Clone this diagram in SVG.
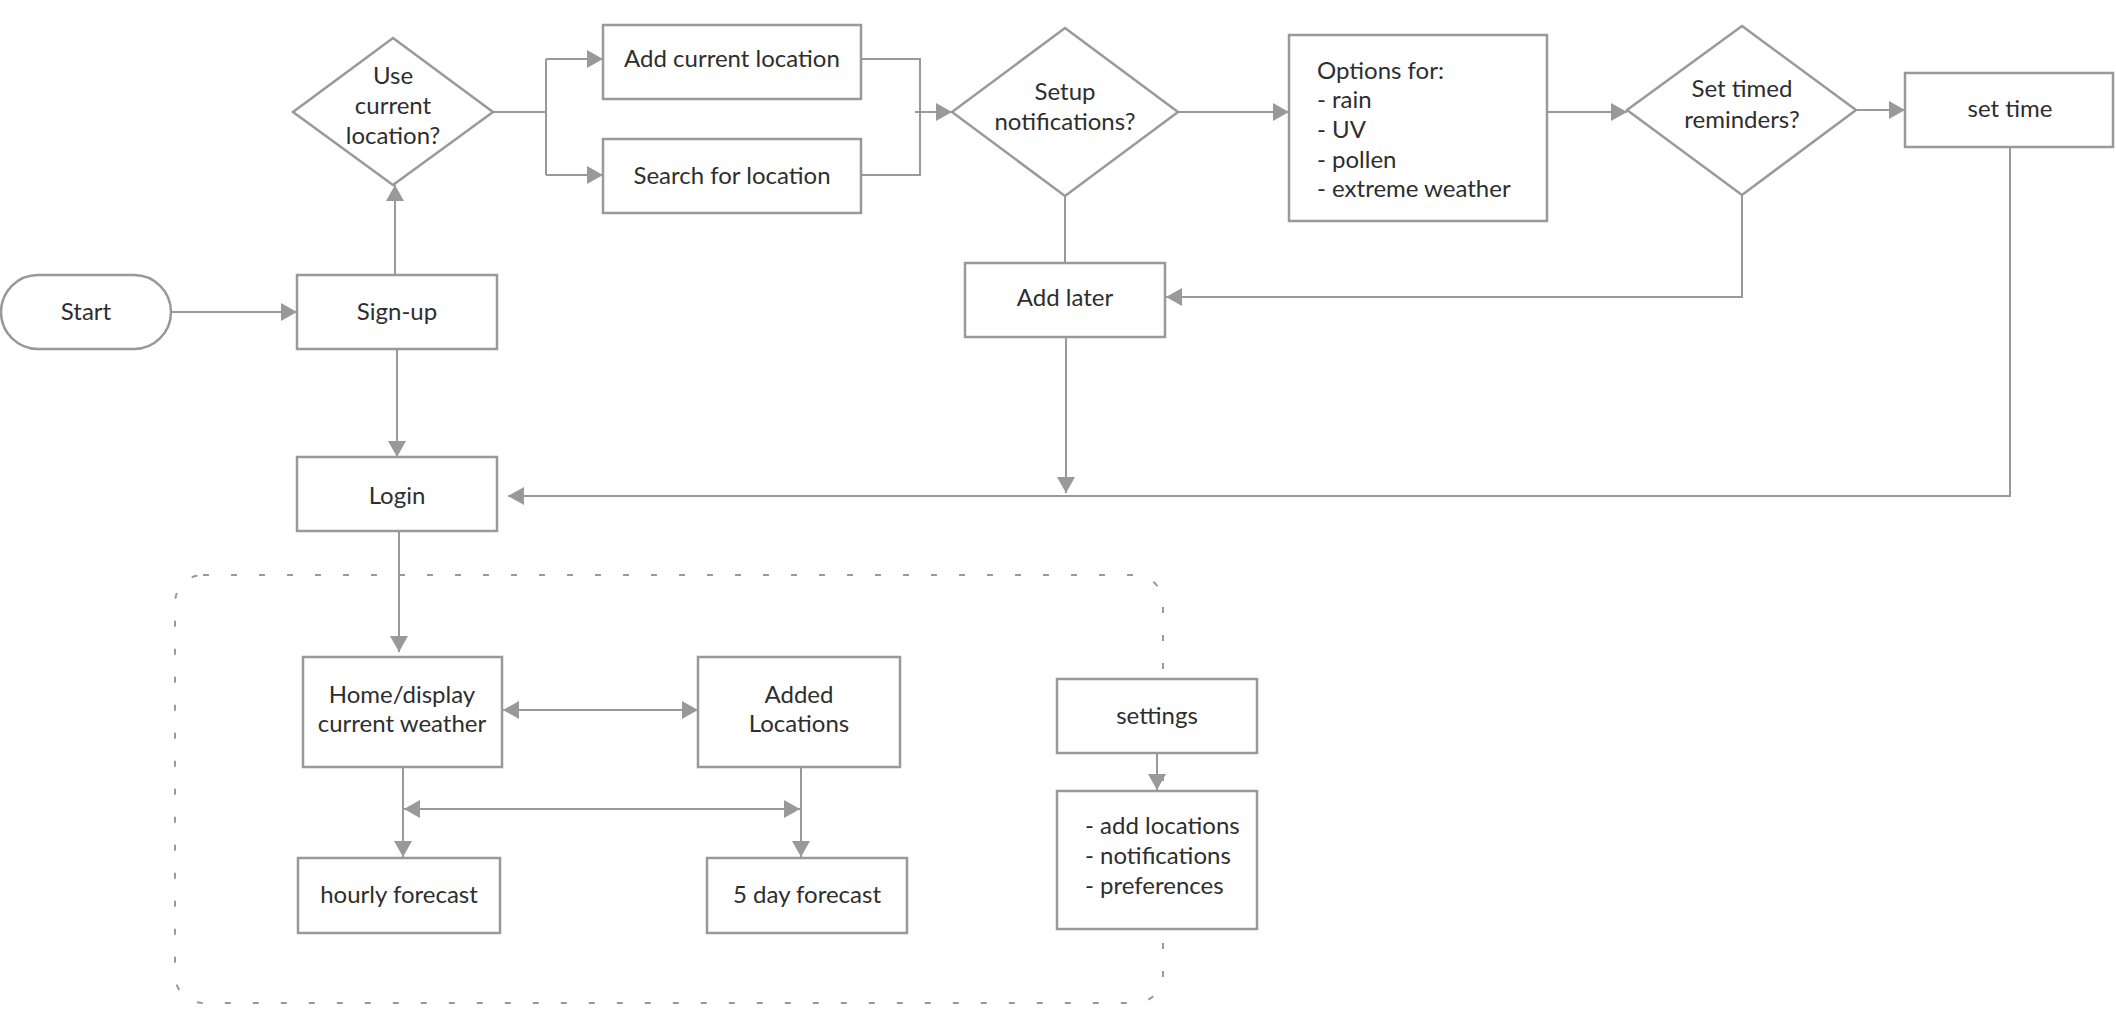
<svg xmlns="http://www.w3.org/2000/svg" width="2116" height="1031" viewBox="0 0 2116 1031">
<style>
.n{fill:#fff;stroke:#999;stroke-width:2.5}
.c{fill:none;stroke:#999;stroke-width:2}
.t{font-family:Lato,"Noto Sans",sans-serif;font-size:24px;fill:#2e2e2e;text-anchor:middle}
.l{font-family:Lato,"Noto Sans",sans-serif;font-size:24px;fill:#2e2e2e;text-anchor:start}
.d{fill:none;stroke:#999;stroke-width:2;stroke-dasharray:6 22}
</style>
<defs>
<marker id="a" viewBox="0 0 16 18" refX="16" refY="9" markerWidth="16" markerHeight="18" markerUnits="userSpaceOnUse" orient="auto-start-reverse">
<path d="M0,0 L16,9 L0,18 Z" fill="#999"/>
</marker>
</defs>
<rect width="2116" height="1031" fill="#fff"/>
<rect id="group-frame" class="d" x="175" y="575" width="988" height="428" rx="28"/>
<g id="connectors">
<path class="c" d="M171,312 H297" marker-end="url(#a)"/>
<path class="c" d="M395,275 V185" marker-end="url(#a)"/>
<path class="c" d="M397,349 V457" marker-end="url(#a)"/>
<path class="c" d="M493,112 H546 M546,59 V175"/>
<path class="c" d="M546,59 H603" marker-end="url(#a)"/>
<path class="c" d="M546,175 H603" marker-end="url(#a)"/>
<path class="c" d="M861,59 H920 V175 H861"/>
<path class="c" d="M915,112 H952" marker-end="url(#a)"/>
<path class="c" d="M1178,112 H1289" marker-end="url(#a)"/>
<path class="c" d="M1547,112 H1627" marker-end="url(#a)"/>
<path class="c" d="M1856,110 H1905" marker-end="url(#a)"/>
<path class="c" d="M1065,196 V263"/>
<path class="c" d="M1742,195 V297 H1166" marker-end="url(#a)"/>
<path class="c" d="M1066,337 V493" marker-end="url(#a)"/>
<path class="c" d="M2010,147 V496 H508" marker-end="url(#a)"/>
<path class="c" d="M399,531 V652" marker-end="url(#a)"/>
<path class="c" d="M503,710 H698" marker-start="url(#a)" marker-end="url(#a)"/>
<path class="c" d="M403,767 V857" marker-end="url(#a)"/>
<path class="c" d="M801,767 V857" marker-end="url(#a)"/>
<path class="c" d="M404,809 H800" marker-start="url(#a)" marker-end="url(#a)"/>
<path class="c" d="M1157,753 V790" marker-end="url(#a)"/>
</g>
<g id="start"><rect class="n" x="1" y="275" width="170" height="74" rx="37"/><text class="t" x="86" y="320">Start</text></g>
<g id="signup"><rect class="n" x="297" y="275" width="200" height="74"/><text class="t" x="397" y="320">Sign-up</text></g>
<g id="use-location"><polygon class="n" points="393,38 493,112 393,185 293,112"/><text class="t" x="393" y="84">Use</text><text class="t" x="393" y="114">current</text><text class="t" x="393" y="144">location?</text></g>
<g id="add-current"><rect class="n" x="603" y="25" width="258" height="74"/><text class="t" x="732" y="67">Add current location</text></g>
<g id="search"><rect class="n" x="603" y="139" width="258" height="74"/><text class="t" x="732" y="184">Search for location</text></g>
<g id="setup-notif"><polygon class="n" points="1065,28 1178,112 1065,196 952,112"/><text class="t" x="1065" y="100">Setup</text><text class="t" x="1065" y="130">notifications?</text></g>
<g id="options"><rect class="n" x="1289" y="35" width="258" height="186"/>
<text class="l" x="1317" y="79">Options for:</text>
<text class="l" x="1317" y="108">- rain</text>
<text class="l" x="1317" y="138">- UV</text>
<text class="l" x="1317" y="168">- pollen</text>
<text class="l" x="1317" y="197">- extreme weather</text></g>
<g id="set-timed"><polygon class="n" points="1742,26 1856,110 1742,195 1627,110"/><text class="t" x="1742" y="97">Set timed</text><text class="t" x="1742" y="128">reminders?</text></g>
<g id="set-time"><rect class="n" x="1905" y="73" width="208" height="74"/><text class="t" x="2010" y="117">set time</text></g>
<g id="add-later"><rect class="n" x="965" y="263" width="200" height="74"/><text class="t" x="1065" y="306">Add later</text></g>
<g id="login"><rect class="n" x="297" y="457" width="200" height="74"/><text class="t" x="397" y="504">Login</text></g>
<g id="home"><rect class="n" x="303" y="657" width="199" height="110"/><text class="t" x="402" y="703">Home/display</text><text class="t" x="402" y="732">current weather</text></g>
<g id="added-locations"><rect class="n" x="698" y="657" width="202" height="110"/><text class="t" x="799" y="703">Added</text><text class="t" x="799" y="732">Locations</text></g>
<g id="hourly"><rect class="n" x="298" y="858" width="202" height="75"/><text class="t" x="399" y="903">hourly forecast</text></g>
<g id="five-day"><rect class="n" x="707" y="858" width="200" height="75"/><text class="t" x="807" y="903">5 day forecast</text></g>
<g id="settings"><rect class="n" x="1057" y="679" width="200" height="74"/><text class="t" x="1157" y="724">settings</text></g>
<g id="settings-list"><rect class="n" x="1057" y="791" width="200" height="138"/>
<text class="l" x="1085" y="834">- add locations</text>
<text class="l" x="1085" y="864">- notifications</text>
<text class="l" x="1085" y="894">- preferences</text></g>
</svg>
